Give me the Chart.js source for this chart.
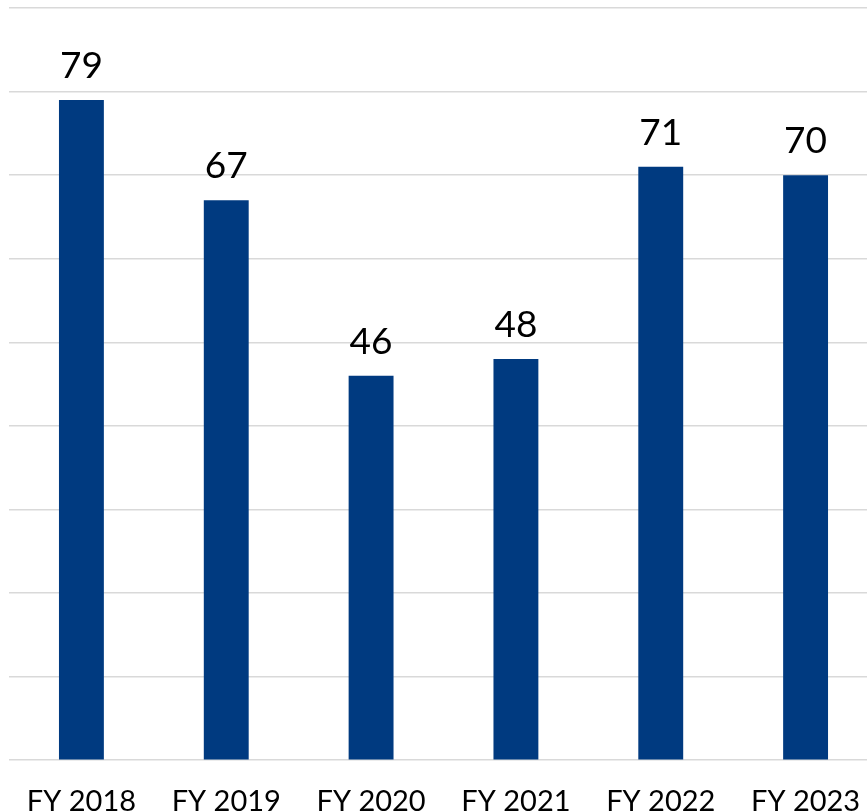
<!DOCTYPE html>
<html>
<head>
<meta charset="utf-8">
<script src="https://cdn.jsdelivr.net/npm/chart.js@4/dist/chart.umd.min.js"></script>
<style>
  html, body { margin: 0; padding: 0; background: #fff; overflow: hidden; }
  #wrap { width: 867px; height: 812px; overflow: hidden; }
</style>
</head>
<body>
<div id="wrap"><canvas id="fyChart" width="878" height="835"></canvas></div>
<script>
const categories = ['FY 2018', 'FY 2019', 'FY 2020', 'FY 2021', 'FY 2022', 'FY 2023'];
const values = [79, 67, 46, 48, 71, 70];
const yMax = 90;
const yStep = 10;

const FONT = 'Lato, "Open Sans", sans-serif';

const barLabels = {
  id: 'barLabels',
  afterDatasetsDraw(chart) {
    const ctx = chart.ctx;
    const meta = chart.getDatasetMeta(0);
    ctx.save();
    ctx.fillStyle = '#000';
    ctx.font = '37px ' + FONT;
    ctx.textAlign = 'center';
    ctx.textBaseline = 'alphabetic';
    meta.data.forEach((bar, i) => {
      ctx.fillText(values[i], bar.x, bar.y - 22);
    });
    ctx.restore();
  }
};

new Chart(document.getElementById('fyChart').getContext('2d'), {
  type: 'bar',
  data: {
    labels: categories,
    datasets: [{
      data: values,
      backgroundColor: '#003A80',
      barPercentage: 0.31,
      categoryPercentage: 1.0
    }]
  },
  options: {
    responsive: false,
    animation: false,
    layout: { padding: { left: 9, right: 0, top: 8, bottom: 0 } },
    plugins: { legend: { display: false }, tooltip: { enabled: false } },
    scales: {
      x: {
        grid: { display: false },
        border: { display: false },
        ticks: { color: '#000', font: { family: FONT, size: 29 }, padding: 16, maxRotation: 0 }
      },
      y: {
        min: 0,
        max: yMax,
        ticks: { stepSize: yStep, display: false },
        grid: { color: '#d9d9d9', lineWidth: 1.5, drawTicks: false },
        border: { display: false }
      }
    }
  },
  plugins: [barLabels]
});
</script>
</body>
</html>
